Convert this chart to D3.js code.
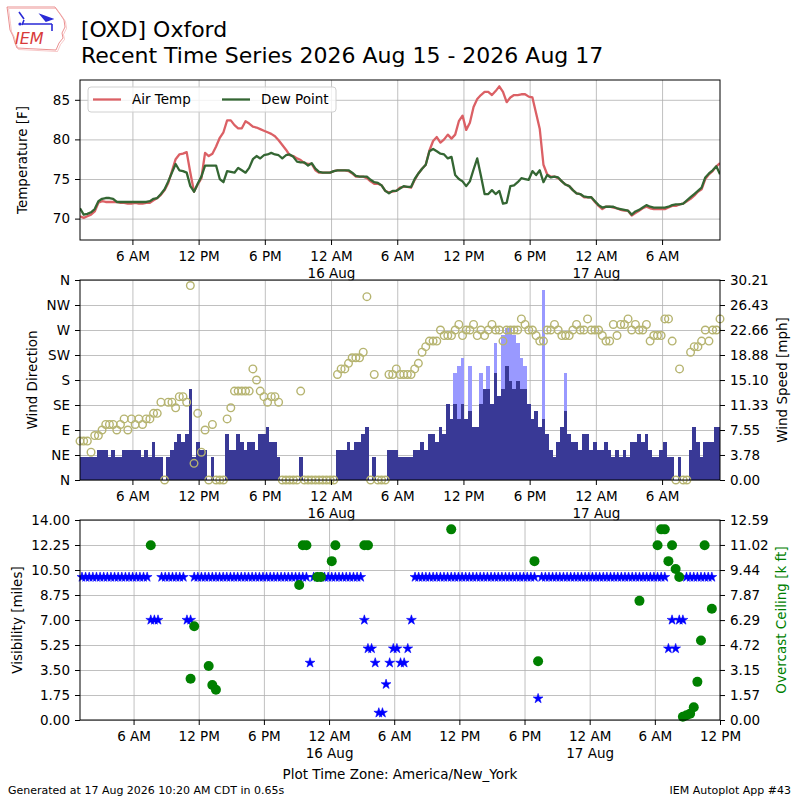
<!DOCTYPE html>
<html>
<head>
<meta charset="utf-8">
<script src="https://cdn.jsdelivr.net/npm/d3@7"></script>
<style>
  body { margin: 0; background: #fff; }
  svg text { font-family: "DejaVu Sans", sans-serif; }
</style>
</head>
<body>
<script>
// reports every 20 minutes, clock times are America/New_York kept as UTC
// so the browser time zone does not move anything
const obsStart = Date.UTC(2026, 7, 15, 1, 15)
const obsEnd = Date.UTC(2026, 7, 17, 11, 15)
const visStart = Date.UTC(2026, 7, 15, 1, 4)
const visEnd = Date.UTC(2026, 7, 17, 12, 0)

const airTemp = [
  70.3, 70.1, 70.3, 70.5, 70.9, 72.0, 72.2, 72.1, 72.1, 72.1,
  72.1, 72.0, 72.0, 71.9, 71.9, 72.0, 71.9, 71.9, 72.0, 72.0,
  72.3, 72.6, 73.0, 73.6, 74.5, 76.0, 77.5, 78.1, 78.2, 78.4,
  75.8, 73.4, 74.3, 75.1, 78.3, 77.9, 78.2, 79.1, 80.2, 80.9,
  82.4, 82.4, 81.8, 81.4, 81.4, 82.3, 82.0, 81.6, 81.5, 81.3,
  81.1, 80.9, 80.7, 80.4, 79.9, 79.3, 78.7, 78.0, 77.9, 77.6,
  77.4, 77.0, 76.9, 76.9, 76.1, 75.8, 75.8, 75.8, 75.8, 76.0,
  76.1, 76.1, 76.1, 76.0, 75.7, 75.3, 75.3, 75.3, 75.1, 74.7,
  74.4, 74.4, 74.2, 73.5, 73.3, 73.4, 73.5, 73.9, 74.0, 74.0,
  73.9, 74.9, 75.7, 76.3, 76.8, 78.6, 79.8, 80.3, 79.6, 80.0,
  80.6, 80.1, 80.6, 82.3, 83.0, 81.2, 82.1, 84.1, 85.1, 85.6,
  86.0, 86.0, 85.6, 86.1, 86.7, 86.0, 84.7, 85.3, 85.6, 85.6,
  85.7, 85.7, 85.4, 85.3, 83.3, 81.3, 76.8, 75.6, 75.3, 75.3,
  75.1, 74.7, 74.3, 74.1, 73.6, 73.2, 73.1, 72.7, 72.7, 72.7,
  72.1, 71.6, 71.2, 71.5, 71.5, 71.4, 71.3, 71.1, 71.0, 71.0,
  70.4, 70.7, 71.0, 71.3, 71.5, 71.3, 71.2, 71.2, 71.2, 71.2,
  71.4, 71.6, 71.6, 71.8, 71.9, 72.2, 72.5, 72.9, 73.4, 73.7,
  75.0, 75.6, 76.0, 76.6, 77.0
]

const dewPoint = [
  71.3, 70.5, 70.6, 70.8, 71.2, 72.2, 72.5, 72.6, 72.6, 72.5,
  72.1, 72.1, 72.1, 72.1, 72.1, 72.1, 72.1, 72.1, 72.1, 72.2,
  72.5, 72.6, 73.1, 73.7, 74.7, 75.8, 76.9, 76.1, 76.0, 75.8,
  74.1, 73.4, 74.4, 75.3, 76.7, 76.7, 76.7, 76.7, 75.0, 74.6,
  76.0, 75.9, 75.8, 76.4, 76.1, 75.8, 76.4, 77.5, 77.9, 77.6,
  78.0, 78.1, 78.3, 78.1, 78.0, 77.6, 78.0, 78.1, 77.8, 77.2,
  77.1, 77.1, 76.7, 77.0, 76.3, 75.9, 75.8, 75.8, 75.8, 76.0,
  76.1, 76.1, 76.1, 76.1, 75.8, 75.4, 75.3, 75.3, 75.3, 74.9,
  74.6, 74.5, 74.2, 73.5, 73.2, 73.5, 73.5, 73.8, 74.1, 74.0,
  74.0, 75.0, 75.7, 76.3, 76.8, 78.5, 78.8, 78.5, 78.2, 78.1,
  77.6, 77.8, 75.5, 75.0, 74.7, 74.1, 74.7, 76.2, 77.6, 75.4,
  73.1, 73.1, 73.6, 73.1, 73.5, 71.9, 72.0, 74.1, 74.2, 74.6,
  75.1, 75.0, 74.9, 76.0, 75.5, 76.1, 74.6, 75.5, 75.2, 75.3,
  75.2, 74.7, 74.3, 74.1, 73.6, 73.2, 73.1, 72.8, 72.7, 72.7,
  72.2, 71.7, 71.4, 71.5, 71.5, 71.5, 71.3, 71.2, 71.1, 71.0,
  70.5, 70.9, 71.1, 71.4, 71.7, 71.5, 71.4, 71.4, 71.4, 71.4,
  71.5, 71.7, 71.8, 71.8, 71.9, 72.3, 72.7, 73.1, 73.5, 73.9,
  75.2, 75.7, 76.1, 76.6, 75.6
]

// wind direction in degrees, 0 = calm
const windDir = [
  70, 70, 70, 50, 80, 80, 90, 100, 100, 100,
  90, 100, 110, 90, 110, 100, 110, 100, 110, 110,
  120, 120, 140, 0, 140, 140, 130, 150, 150, 140,
  350, 30, 120, 50, 90, 0, 100, 0, 0, 0,
  110, 130, 160, 160, 160, 160, 160, 200, 180, 160,
  150, 140, 150, 150, 140, 0, 0, 0, 0, 0,
  160, 0, 0, 0, 0, 0, 0, 0, 0, 0,
  190, 200, 200, 210, 220, 220, 220, 230, 330, 0,
  190, 0, 0, 0, 190, 190, 200, 190, 190, 190,
  190, 200, 210, 230, 240, 250, 250, 250, 270, 260,
  260, 260, 270, 280, 260, 270, 270, 280, 260, 270,
  260, 270, 280, 270, 270, 250, 270, 270, 270, 270,
  290, 280, 270, 270, 260, 250, 250, 270, 270, 280,
  270, 260, 260, 260, 270, 280, 270, 270, 290, 270,
  270, 270, 260, 250, 250, 280, 260, 280, 280, 290,
  270, 280, 270, 270, 280, 250, 260, 260, 260, 290,
  290, 250, 0, 200, 0, 0, 230, 240, 240, 250,
  270, 250, 270, 270, 290
]

// sustained wind in knots
const windKt = [
  3, 3, 3, 3, 3, 4, 4, 4, 3, 4,
  3, 3, 4, 4, 4, 4, 4, 3, 4, 3,
  5, 3, 3, 0, 3, 4, 5, 6, 5, 6,
  12, 3, 5, 4, 4, 0, 3, 0, 0, 0,
  6, 4, 4, 6, 5, 4, 5, 5, 4, 6,
  6, 7, 5, 5, 3, 0, 0, 0, 0, 0,
  3, 0, 0, 0, 0, 0, 0, 0, 0, 0,
  4, 4, 4, 5, 4, 5, 5, 6, 7, 0,
  3, 0, 0, 0, 4, 4, 4, 3, 3, 3,
  3, 4, 4, 5, 4, 6, 6, 5, 7, 6,
  10, 8, 10, 8, 10, 8, 9, 7, 7, 10,
  12, 12, 10, 14, 11, 12, 15, 13, 12, 13,
  12, 12, 10, 8, 9, 7, 8, 6, 4, 3,
  5, 7, 9, 6, 5, 5, 4, 6, 6, 4,
  5, 4, 4, 5, 4, 3, 4, 3, 4, 3,
  5, 5, 6, 5, 6, 4, 3, 3, 4, 5,
  3, 3, 0, 3, 0, 0, 4, 7, 5, 3,
  5, 5, 5, 7, 7
]

// gusts: report number and knots
const gustObs = [102, 103, 104, 106, 109, 111, 113, 115, 116, 117, 118, 119, 120, 121, 126, 132]
const gustKt = [14, 15, 16, 15, 14, 15, 18, 19, 20, 20, 19, 18, 16, 15, 25, 14]

const visMiles = [
  10, 10, 10, 10, 10, 10, 10, 10, 10, 10,
  10, 10, 10, 10, 10, 10, 10, 10, 10, 7,
  7, 7, 10, 10, 10, 10, 10, 10, 10, 7,
  7, 10, 10, 10, 10, 10, 10, 10, 10, 10,
  10, 10, 10, 10, 10, 10, 10, 10, 10, 10,
  10, 10, 10, 10, 10, 10, 10, 10, 10, 10,
  10, 10, 10, 4, 10, 10, 10, 10, 10, 10,
  10, 10, 10, 10, 10, 10, 10, 10, 7, 5,
  5, 4, 0.5, 0.5, 2.5, 4, 5, 5, 4, 4,
  5, 7, 10, 10, 10, 10, 10, 10, 10, 10,
  10, 10, 10, 10, 10, 10, 10, 10, 10, 10,
  10, 10, 10, 10, 10, 10, 10, 10, 10, 10,
  10, 10, 10, 10, 10, 10, 1.5, 10, 10, 10,
  10, 10, 10, 10, 10, 10, 10, 10, 10, 10,
  10, 10, 10, 10, 10, 10, 10, 10, 10, 10,
  10, 10, 10, 10, 10, 10, 10, 10, 10, 10,
  10, 10, 5, 7, 5, 7, 7, 10, 10, 10,
  10, 10, 10, 10, 10
]

// overcast ceiling: report number and thousands of feet
const ceilObs = [19, 30, 31, 35, 36, 37, 60, 61, 62, 65, 66, 69, 70, 78, 79, 102, 125, 126,
  154, 159, 160, 161, 162, 163, 164, 165, 166, 167, 168, 169, 170, 171, 172, 174]
const ceilKft = [11.0, 2.6, 5.9, 3.4, 2.2, 1.9, 8.5, 11.0, 11.0, 9.0, 9.0, 10.0, 11.0, 11.0, 11.0, 12.0, 10.0, 3.7,
  7.5, 11.0, 12.0, 12.0, 10.0, 11.0, 9.5, 9.0, 0.2, 0.3, 0.4, 0.8, 2.4, 5.0, 11.0, 7.0]

const tempTicks = [70, 75, 80, 85]
const dirTicks = [0, 45, 90, 135, 180, 225, 270, 315, 360]
const dirLabels = ['N', 'NE', 'E', 'SE', 'S', 'SW', 'W', 'NW', 'N']
const speedTicks = [0, 3.78, 7.55, 11.33, 15.10, 18.88, 22.66, 26.43, 30.21]
const visTicks = [0, 1.75, 3.5, 5.25, 7, 8.75, 10.5, 12.25, 14]
const ceilTicks = [0, 1.57, 3.15, 4.72, 6.29, 7.87, 9.44, 11.02, 12.59]

const KT2MPH = 1.15078

const width = 800
const height = 800
const left = 80
const right = 720
const fontSize = 13.5

const times = d3.utcMinute.range(new Date(obsStart), new Date(obsEnd + 1), 20)

const svg = d3.select('body').append('svg')
  .attr('width', width)
  .attr('height', height)

const xTop = d3.scaleUtc().domain([obsStart, obsEnd]).range([left, right])
const xBot = d3.scaleUtc().domain([visStart, visEnd]).range([left, right])

const yTemp = d3.scaleLinear().domain([67.3, 87.5]).range([240, 80])
const yDir = d3.scaleLinear().domain([0, 360]).range([480, 280])
const ySpeed = d3.scaleLinear().domain([0, 30.21]).range([480, 280])
const yVis = d3.scaleLinear().domain([0, 14]).range([720, 520])
const yCeil = d3.scaleLinear().domain([0, 12.59]).range([720, 520])

const sixHours = x => d3.utcHour.every(6).range(x.domain()[0], new Date(+x.domain()[1] + 1))
const hourFmt = d3.utcFormat('%-I %p')
const dayFmt = d3.utcFormat('%-d %b')

function grid (x, yScale, yTicks, top, bottom) {
  const g = svg.append('g').attr('class', 'grid')
  g.append('g')
    .attr('transform', 'translate(0,' + bottom + ')')
    .call(d3.axisBottom(x).tickValues(sixHours(x)).tickSize(-(bottom - top)).tickFormat(''))
  g.append('g')
    .attr('transform', 'translate(' + left + ',0)')
    .call(d3.axisLeft(yScale).tickValues(yTicks).tickSize(-(right - left)).tickFormat(''))
  g.selectAll('.domain').remove()
  g.selectAll('line').attr('stroke', '#b0b0b0').attr('stroke-width', 0.8)
}

function styleAxis (g) {
  g.select('.domain').remove()
  g.attr('font-size', fontSize).attr('font-family', 'DejaVu Sans')
  g.selectAll('.tick line').attr('stroke', '#000').attr('stroke-width', 1)
  g.selectAll('.tick text').attr('fill', '#000')
}

function frame (x, top, bottom) {
  svg.append('g')
    .attr('transform', 'translate(0,' + bottom + ')')
    .call(d3.axisBottom(x).tickValues(sixHours(x)).tickSize(5).tickPadding(6).tickFormat(hourFmt))
    .call(styleAxis)
    .selectAll('.tick text')
    .each(function (d) {
      if (d.getUTCHours() === 0) {
        d3.select(this).append('tspan').attr('x', 0).attr('dy', '1.3em').text(dayFmt(d))
      }
    })
  svg.append('rect')
    .attr('x', left).attr('y', top)
    .attr('width', right - left).attr('height', bottom - top)
    .attr('fill', 'none').attr('stroke', '#000').attr('stroke-width', 1)
}

function yLabel (text, x, y, color) {
  svg.append('text')
    .attr('transform', 'translate(' + x + ',' + y + ') rotate(-90)')
    .attr('text-anchor', 'middle')
    .attr('dy', '0.35em')
    .attr('font-size', fontSize)
    .attr('fill', color || '#000')
    .text(text)
}

function clip (id, top, bottom) {
  svg.append('clipPath').attr('id', id)
    .append('rect').attr('x', left).attr('y', top).attr('width', right - left).attr('height', bottom - top)
  return 'url(#' + id + ')'
}

// ---------- temperature panel
grid(xTop, yTemp, tempTicks, 80, 240)

const tempClip = clip('clip-temp', 80, 240)
const line = d3.line().x((d, i) => xTop(times[i])).y(d => yTemp(d))

svg.append('path')
  .datum(airTemp)
  .attr('clip-path', tempClip)
  .attr('fill', 'none')
  .attr('stroke', '#db6065')
  .attr('stroke-width', 2.3)
  .attr('stroke-linejoin', 'round')
  .attr('d', line)

svg.append('path')
  .datum(dewPoint)
  .attr('clip-path', tempClip)
  .attr('fill', 'none')
  .attr('stroke', '#346633')
  .attr('stroke-width', 2.3)
  .attr('stroke-linejoin', 'round')
  .attr('d', line)

svg.append('g')
  .attr('transform', 'translate(' + left + ',0)')
  .call(d3.axisLeft(yTemp).tickValues(tempTicks).tickSize(5).tickPadding(5))
  .call(styleAxis)

frame(xTop, 80, 240)
yLabel('Temperature [F]', 22.5, 160)

const legend = svg.append('g').attr('transform', 'translate(88,87)')
legend.append('rect')
  .attr('width', 248).attr('height', 25).attr('rx', 3)
  .attr('fill', '#fff').attr('fill-opacity', 0.8)
  .attr('stroke', '#d0d0d0')
const legendItems = [['Air Temp', '#db6065', 5], ['Dew Point', '#346633', 134]]
legendItems.forEach(([name, color, x0]) => {
  legend.append('line')
    .attr('x1', x0).attr('x2', x0 + 28).attr('y1', 12.5).attr('y2', 12.5)
    .attr('stroke', color).attr('stroke-width', 2.3)
  legend.append('text')
    .attr('x', x0 + 39).attr('y', 12.5).attr('dy', '0.35em')
    .attr('font-size', fontSize)
    .text(name)
})

// ---------- wind panel
grid(xTop, yDir, dirTicks, 280, 480)

const windClip = clip('clip-wind', 280, 480)
const barW = xTop(obsStart + 20 * 60000) - xTop(obsStart)

svg.append('g')
  .attr('clip-path', windClip)
  .attr('shape-rendering', 'crispEdges')
  .selectAll('rect')
  .data(gustObs)
  .enter()
  .append('rect')
  .attr('x', (d) => xTop(times[d]) - barW / 2)
  .attr('y', (d, i) => ySpeed(gustKt[i] * KT2MPH))
  .attr('width', barW)
  .attr('height', (d, i) => 480 - ySpeed(gustKt[i] * KT2MPH))
  .attr('fill', '#9999ff')

svg.append('g')
  .attr('clip-path', windClip)
  .attr('shape-rendering', 'crispEdges')
  .selectAll('rect')
  .data(windKt)
  .enter()
  .append('rect')
  .attr('x', (d, i) => xTop(times[i]) - barW / 2)
  .attr('y', d => ySpeed(d * KT2MPH))
  .attr('width', barW)
  .attr('height', d => 480 - ySpeed(d * KT2MPH))
  .attr('fill', '#393996')

svg.append('g')
  .selectAll('circle')
  .data(windDir)
  .enter()
  .append('circle')
  .attr('cx', (d, i) => xTop(times[i]))
  .attr('cy', d => yDir(d))
  .attr('r', 3.8)
  .attr('fill', 'none')
  .attr('stroke', '#b6b470')
  .attr('stroke-width', 1.4)

svg.append('g')
  .attr('transform', 'translate(' + left + ',0)')
  .call(d3.axisLeft(yDir).tickValues(dirTicks).tickSize(5).tickPadding(5)
    .tickFormat((d, i) => dirLabels[i]))
  .call(styleAxis)

svg.append('g')
  .attr('transform', 'translate(' + right + ',0)')
  .call(d3.axisRight(ySpeed).tickValues(speedTicks).tickSize(5).tickPadding(5)
    .tickFormat(d3.format('.2f')))
  .call(styleAxis)

frame(xTop, 280, 480)
yLabel('Wind Direction', 32.5, 380)
yLabel('Wind Speed [mph]', 782, 380)

// ---------- visibility / ceiling panel
grid(xBot, yVis, visTicks, 520, 720)

const star = d3.symbol().type(d3.symbolStar).size(30)

svg.append('g')
  .selectAll('path')
  .data(visMiles)
  .enter()
  .append('path')
  .attr('transform', (d, i) => 'translate(' + xBot(times[i]) + ',' + yVis(d) + ')')
  .attr('d', star)
  .attr('fill', '#0000ff')
  .attr('stroke', '#0000ff')
  .attr('stroke-width', 0.6)

svg.append('g')
  .selectAll('circle')
  .data(ceilObs)
  .enter()
  .append('circle')
  .attr('cx', d => xBot(times[d]))
  .attr('cy', (d, i) => yCeil(ceilKft[i]))
  .attr('r', 5)
  .attr('fill', '#008000')

svg.append('g')
  .attr('transform', 'translate(' + left + ',0)')
  .call(d3.axisLeft(yVis).tickValues(visTicks).tickSize(5).tickPadding(5)
    .tickFormat(d3.format('.2f')))
  .call(styleAxis)

svg.append('g')
  .attr('transform', 'translate(' + right + ',0)')
  .call(d3.axisRight(yCeil).tickValues(ceilTicks).tickSize(5).tickPadding(5)
    .tickFormat(d3.format('.2f')))
  .call(styleAxis)

frame(xBot, 520, 720)
yLabel('Visibility [miles]', 17.5, 620)
yLabel('Overcast Ceiling [k ft]', 781.5, 620, '#008000')

// ---------- titles and footer
svg.append('text').attr('x', 81).attr('y', 37).attr('font-size', 22).text('[OXD] Oxford')
svg.append('text').attr('x', 81).attr('y', 63).attr('font-size', 22)
  .text('Recent Time Series 2026 Aug 15 - 2026 Aug 17')

svg.append('text').attr('x', 400).attr('y', 779).attr('text-anchor', 'middle')
  .attr('font-size', fontSize).text('Plot Time Zone: America/New_York')
svg.append('text').attr('x', 8).attr('y', 794).attr('font-size', 11)
  .text('Generated at 17 Aug 2026 10:20 AM CDT in 0.65s')
svg.append('text').attr('x', 791).attr('y', 794).attr('text-anchor', 'end').attr('font-size', 11)
  .text('IEM Autoplot App #43')

// IEM logo, rough
const logo = svg.append('g')
const iowa = 'M7,7 L55,7 L57,10 L60,14 L64,20 L65,27 L62,33 L63,38 L59,43 L56,50 L17,48 L15,43 L13,36 L10,30 L9,22 L8,14 Z'
logo.append('path').attr('d', iowa).attr('fill', 'none').attr('stroke', '#e57373').attr('stroke-width', 0.8)
logo.append('path').attr('d', iowa).attr('transform', 'translate(1.5,1.5)')
  .attr('fill', 'none').attr('stroke', '#f2a5a5').attr('stroke-width', 0.6)
logo.append('path')
  .attr('d', 'M19,12 L24,19 M22,24 L52,24 M41,15 L52,19 L46,21 Z M52,24 L52,31 M24,20 L22,25')
  .attr('fill', '#2a2ad6').attr('stroke', '#2a2ad6').attr('stroke-width', 1.6)
logo.append('circle').attr('cx', 20).attr('cy', 24).attr('r', 1.6).attr('fill', '#2a2ad6')
logo.append('text').attr('x', 15).attr('y', 44)
  .attr('font-family', 'Liberation Serif').attr('font-style', 'italic')
  .attr('font-size', 16).attr('fill', '#d83a3a').text('IEM')
</script>
</body>
</html>
